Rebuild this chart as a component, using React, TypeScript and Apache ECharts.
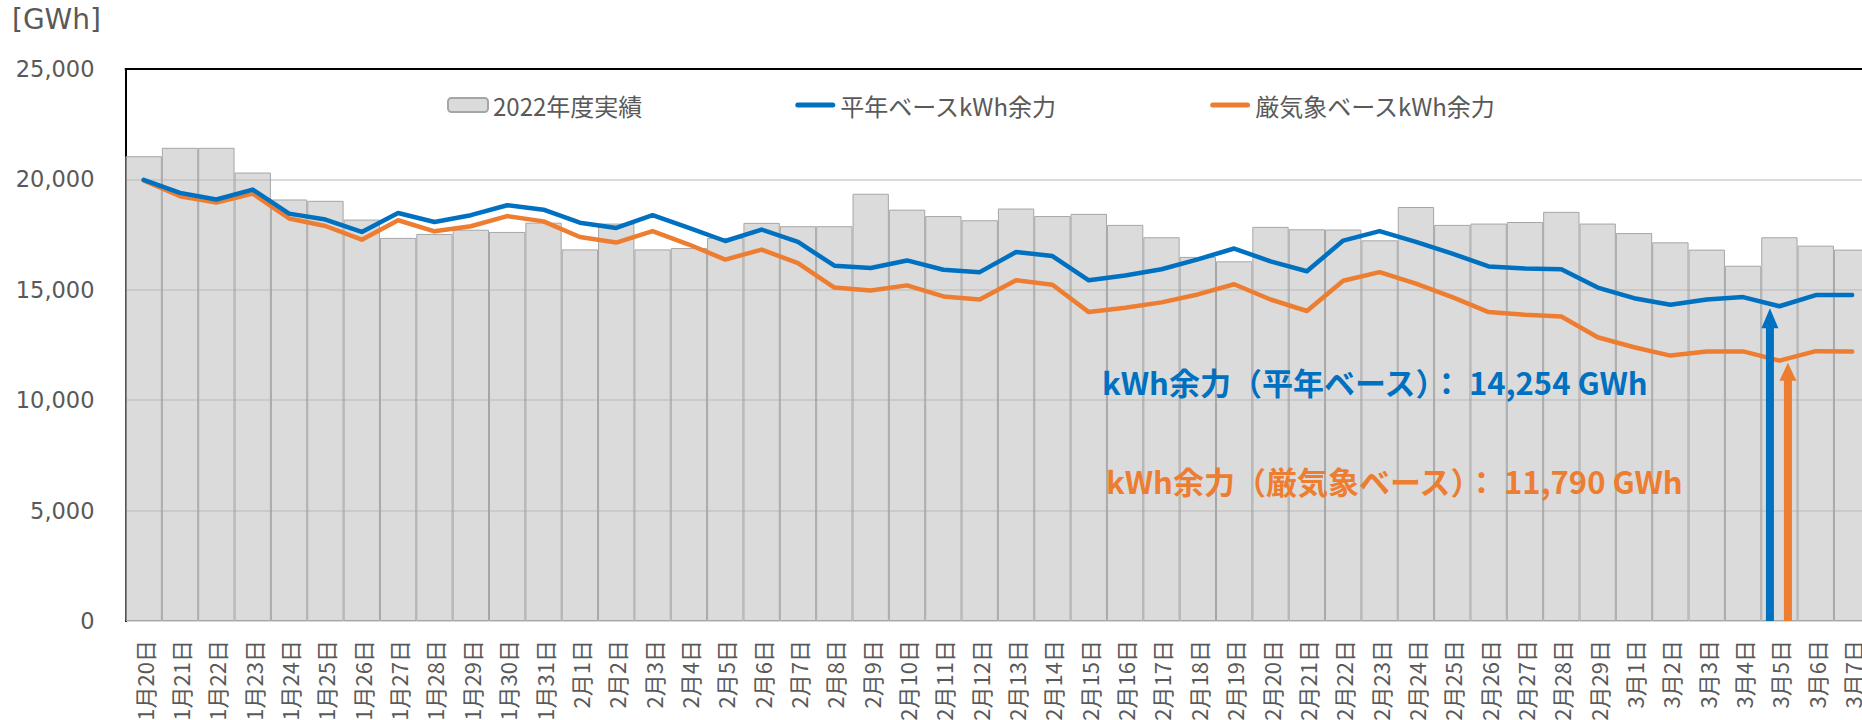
import React, { useEffect, useRef } from 'react';
import * as echarts from 'echarts';

const categories = [
  '1月20日', '1月21日', '1月22日', '1月23日', '1月24日', '1月25日', '1月26日', '1月27日', '1月28日', '1月29日', '1月30日', '1月31日',
  '2月1日', '2月2日', '2月3日', '2月4日', '2月5日', '2月6日', '2月7日', '2月8日', '2月9日', '2月10日', '2月11日', '2月12日',
  '2月13日', '2月14日', '2月15日', '2月16日', '2月17日', '2月18日', '2月19日', '2月20日', '2月21日', '2月22日', '2月23日', '2月24日',
  '2月25日', '2月26日', '2月27日', '2月28日', '2月29日',
  '3月1日', '3月2日', '3月3日', '3月4日', '3月5日', '3月6日', '3月7日',
];

const actual2022 = [
  21050, 21430, 21430, 20310, 19090, 19030, 18180, 17350, 17530, 17720, 17620, 18040,
  16830, 18000, 16830, 16890, 17350, 18030, 17880, 17880, 19350, 18630, 18340, 18150,
  18680, 18340, 18440, 17940, 17380, 16490, 16290, 17850, 17740, 17730, 17240, 18750,
  17940, 18000, 18070, 18530, 18000,
  17570, 17150, 16820, 16090, 17380, 17000, 16820,
];

const normalBase = [
  19980, 19390, 19090, 19540, 18450, 18180, 17620, 18480, 18070, 18380, 18830, 18630,
  18040, 17800, 18380, 17800, 17210, 17730, 17170, 16090, 15990, 16330, 15910, 15800,
  16710, 16530, 15430, 15650, 15930, 16380, 16870, 16290, 15840, 17230, 17660, 17170,
  16640, 16060, 15960, 15930, 15100,
  14620, 14320, 14560, 14670, 14254, 14760, 14760,
];

const severeBase = [
  19950, 19240, 18950, 19360, 18230, 17890, 17270, 18150, 17650, 17880, 18340, 18100,
  17390, 17140, 17660, 17050, 16370, 16820, 16210, 15100, 14970, 15200, 14700, 14560,
  15430, 15230, 13990, 14190, 14430, 14790, 15250, 14560, 14040, 15410, 15800, 15280,
  14670, 13990, 13870, 13790, 12850,
  12400, 12020, 12210, 12210, 11790, 12220, 12200,
];

const seriesNames = ['2022年度実績', '平年ベースkWh余力', '厳気象ベースkWh余力'];
const highlightDay = '3月5日';
const unitLabel = '[GWh]';

const BLUE = '#0070C0';
const ORANGE = '#ED7D31';
const TEXT = '#595959';
const CJK = 'Noto Sans CJK JP';
const LINE_ICON = 'path://M2.5,0 L37.5,0 A2.5,2.5 0 0 1 37.5,5 L2.5,5 A2.5,2.5 0 0 1 2.5,0 Z';

const fmt = (v: number) => v.toLocaleString('en-US');

function arrowSeries(value: number, color: string, dx: number, shaftW: number, headW: number, headH: number) {
  return {
    type: 'custom',
    name: 'arrow',
    silent: true,
    z: 5,
    data: [[highlightDay, value]],
    renderItem: (_params: any, api: any) => {
      const tip = api.coord([api.value(0), api.value(1)]);
      const base = api.coord([api.value(0), 0]);
      const x = tip[0] + dx;
      const ty = tip[1] + 2;
      return {
        type: 'group',
        children: [
          {
            type: 'rect',
            shape: { x: x - shaftW / 2, y: ty + headH - 1, width: shaftW, height: base[1] - ty - headH + 1 },
            style: { fill: color },
          },
          {
            type: 'polygon',
            shape: { points: [[x - headW / 2, ty + headH], [x + headW / 2, ty + headH], [x, ty]] },
            style: { fill: color },
          },
        ],
      };
    },
  };
}

export default function App() {
  const ref = useRef<HTMLDivElement>(null);
  useEffect(() => {
    if (!ref.current) return;
    const chart = echarts.init(ref.current, null, { renderer: 'svg' });
    const hi = categories.indexOf(highlightDay);
    const option: any = {
      animation: false,
      backgroundColor: '#ffffff',
      textStyle: { fontFamily: CJK },
      grid: { left: 125.5, top: 69, width: 1744.8, height: 552, containLabel: false, outerBoundsMode: 'none' },
      legend: {
        data: [
          { name: seriesNames[0] },
          { name: seriesNames[1], icon: LINE_ICON, itemStyle: { color: BLUE } },
          { name: seriesNames[2], icon: LINE_ICON, itemStyle: { color: ORANGE } },
        ],
        left: 442,
        top: 88,
        itemWidth: 40,
        itemHeight: 14,
        itemGap: 153,
        textStyle: { fontSize: 24, color: TEXT, fontFamily: CJK },
      },
      xAxis: [
        {
          type: 'category',
          data: categories,
          axisLine: { show: false },
          axisTick: { show: false },
          axisLabel: { interval: 0, rotate: 90, margin: 19, fontSize: 22, color: TEXT, fontFamily: CJK },
        },
        {
          type: 'category',
          data: categories,
          position: 'top',
          axisLine: { show: true, lineStyle: { color: '#000', width: 2 } },
          axisTick: { show: false },
          axisLabel: { show: false },
          splitLine: { show: false },
        },
      ],
      yAxis: {
        type: 'value',
        min: 0,
        max: 25000,
        interval: 5000,
        axisLine: { show: true, lineStyle: { color: '#000', width: 2 } },
        axisTick: { show: false },
        axisLabel: { margin: 31, fontSize: 22.5, color: TEXT, fontFamily: 'DejaVu Sans', formatter: (v: number) => fmt(v) },
        splitLine: { lineStyle: { color: '#d9d9d9', width: 2 } },
      },
      series: [
        {
          name: seriesNames[0],
          type: 'bar',
          data: actual2022,
          barCategoryGap: '0%',
          itemStyle: { color: 'rgba(190,190,190,0.55)', borderColor: '#a6a6a6', borderWidth: 1 },
          z: 2,
        },
        {
          name: seriesNames[1],
          type: 'line',
          data: normalBase,
          symbol: 'none',
          lineStyle: { color: BLUE, width: 4.5, cap: 'round', join: 'round' },
          itemStyle: { color: BLUE },
          z: 4,
        },
        {
          name: seriesNames[2],
          type: 'line',
          data: severeBase,
          symbol: 'none',
          lineStyle: { color: ORANGE, width: 4.5, cap: 'round', join: 'round' },
          itemStyle: { color: ORANGE },
          z: 3,
        },
        arrowSeries(normalBase[hi], BLUE, -9.5, 8, 17, 20),
        arrowSeries(severeBase[hi], ORANGE, 8.5, 8, 17, 18),
      ],
      graphic: [
        {
          type: 'text',
          x: 12,
          y: 19,
          style: { text: unitLabel, fontSize: 28, fontFamily: 'DejaVu Sans', fill: TEXT, verticalAlign: 'middle', align: 'left' },
        },
        {
          type: 'text',
          x: 1102,
          y: 381,
          z: 10,
          style: {
            text: `kWh余力（平年ベース）： ${fmt(normalBase[hi])} GWh`,
            fontSize: 31,
            fontWeight: 'bold',
            fontFamily: CJK,
            fill: BLUE,
            verticalAlign: 'middle',
            align: 'left',
          },
        },
        {
          type: 'text',
          x: 1106,
          y: 480,
          z: 10,
          style: {
            text: `kWh余力（厳気象ベース）： ${fmt(severeBase[hi])} GWh`,
            fontSize: 31,
            fontWeight: 'bold',
            fontFamily: CJK,
            fill: ORANGE,
            verticalAlign: 'middle',
            align: 'left',
          },
        },
      ],
    };
    chart.setOption(option);
    return () => chart.dispose();
  }, []);
  return (
    <div
      ref={ref}
      style={{ position: 'absolute', left: 0, top: 0, width: 1862, height: 720, background: '#fff', overflow: 'hidden' }}
    />
  );
}
